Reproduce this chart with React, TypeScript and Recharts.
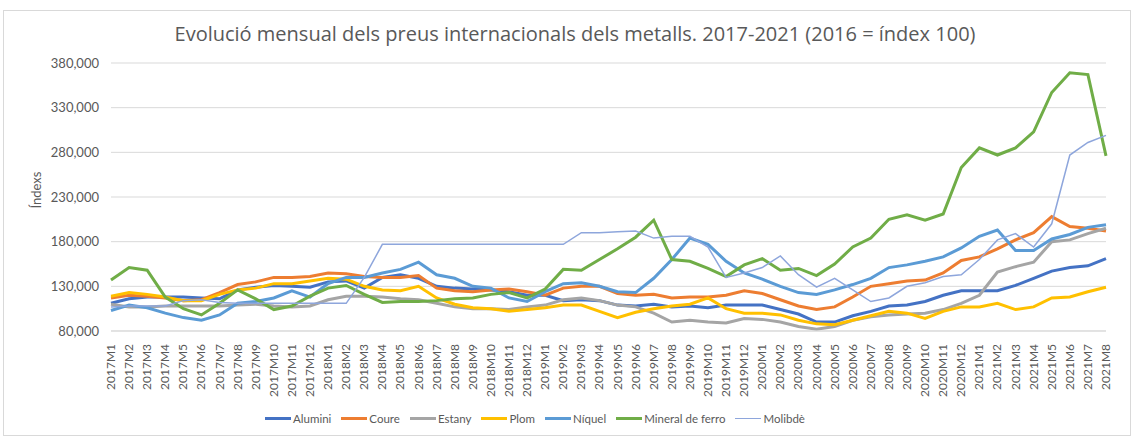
import { LineChart, Line, XAxis, YAxis, CartesianGrid, Legend } from 'recharts';

const months = [
  '2017M1', '2017M2', '2017M3', '2017M4', '2017M5', '2017M6', '2017M7', '2017M8', '2017M9', '2017M10', '2017M11', '2017M12',
  '2018M1', '2018M2', '2018M3', '2018M4', '2018M5', '2018M6', '2018M7', '2018M8', '2018M9', '2018M10', '2018M11', '2018M12',
  '2019M1', '2019M2', '2019M3', '2019M4', '2019M5', '2019M6', '2019M7', '2019M8', '2019M9', '2019M10', '2019M11', '2019M12',
  '2020M1', '2020M2', '2020M3', '2020M4', '2020M5', '2020M6', '2020M7', '2020M8', '2020M9', '2020M10', '2020M11', '2020M12',
  '2021M1', '2021M2', '2021M3', '2021M4', '2021M5', '2021M6', '2021M7', '2021M8',
];

const alumini = [
  111, 116, 118, 118, 118, 117, 116, 126, 129, 131, 130, 129,
  135, 136, 128, 140, 143, 139, 130, 128, 127, 126, 124, 120,
  120, 114, 115, 114, 109, 108, 110, 107, 108, 106, 109, 109,
  109, 104, 99, 90, 90, 97, 102, 108, 109, 113, 120, 125,
  125, 125, 131, 139, 147, 151, 153, 161,
];
const coure = [
  117, 120, 119, 117, 114, 115, 123, 132, 135, 140, 140, 141,
  145, 144, 141, 140, 140, 142, 128, 125, 124, 126, 127, 124,
  120, 128, 130, 130, 122, 120, 121, 117, 118, 118, 120, 125,
  122, 115, 108, 104, 107, 118, 130, 133, 136, 137, 145, 159,
  163, 172, 182, 190, 208, 197, 195, 192,
];
const estany = [
  110, 107, 107, 108, 108, 108, 108, 109, 110, 108, 107, 108,
  115, 119, 119, 118, 116, 115, 111, 107, 105, 105, 104, 107,
  109, 115, 117, 114, 109, 107, 100, 90, 92, 90, 89, 94,
  93, 90, 85, 82, 85, 92, 96, 98, 99, 100, 104, 111,
  120, 146, 152, 157, 180, 182, 189, 195,
];
const plom = [
  119, 123, 121, 118, 114, 114, 121, 126, 128, 133, 133, 136,
  139, 138, 130, 126, 125, 130, 117, 110, 106, 105, 102, 104,
  106, 109, 109, 102, 95, 101, 105, 108, 110, 117, 105, 100,
  100, 98, 92, 88, 87, 92, 97, 102, 100, 94, 102, 107,
  107, 111, 104, 107, 117, 118, 124, 129,
];
const niquel = [
  103, 109, 106, 100, 95, 92, 98, 111, 113, 117, 125, 118,
  133, 140, 140, 145, 149, 157, 143, 139, 130, 128, 117, 113,
  124, 133, 134, 130, 124, 123, 139, 160, 184, 177, 158, 145,
  138, 130, 123, 121, 126, 132, 139, 151, 154, 158, 163, 173,
  186, 193, 170, 170, 183, 188, 196, 199,
];
const mineralFerro = [
  137, 151, 148, 118, 105, 98, 111, 126, 116, 104, 108, 119,
  128, 131, 121, 112, 113, 113, 114, 116, 117, 121, 123, 117,
  127, 149, 148, 160, 172, 185, 204, 160, 158, 150, 141, 154,
  161, 148, 150, 142, 155, 174, 184, 205, 210, 204, 211, 263,
  285, 277, 285, 303, 347, 369, 367, 276,
];
const molibde = [
  107, 108, 108, 108, 114, 115, 112, 111, 111, 111, 111, 111,
  111, 111, 140, 177, 177, 177, 177, 177, 177, 177, 177, 177,
  177, 177, 190, 190, 191, 192, 184, 186, 186, 174, 140, 145,
  151, 164, 143, 129, 139, 126, 113, 117, 130, 134, 141, 143,
  160, 182, 189, 174, 200, 277, 291, 299,
];

const yTicks = [80, 130, 180, 230, 280, 330, 380];

const series = [
  { key: 'alumini', name: 'Alumini', color: '#4472c4', width: 3, values: alumini },
  { key: 'coure', name: 'Coure', color: '#ed7d31', width: 3, values: coure },
  { key: 'estany', name: 'Estany', color: '#a5a5a5', width: 3, values: estany },
  { key: 'plom', name: 'Plom', color: '#ffc000', width: 3, values: plom },
  { key: 'niquel', name: 'Níquel', color: '#5b9bd5', width: 3, values: niquel },
  { key: 'ferro', name: 'Mineral de ferro', color: '#70ad47', width: 3, values: mineralFerro },
  { key: 'molibde', name: 'Molibdè', color: '#8ea6dc', width: 1.5, values: molibde },
];

const data = months.map((m, i) => {
  const row: any = { month: m };
  series.forEach((s) => { row[s.key] = s.values[i]; });
  return row;
});

const FONT = 'Lato, "Open Sans", sans-serif';
const TEXT = '#595959';

const MonthTick = ({ x, y, payload }: any) => (
  <text
    transform={`translate(${x + 4},${y + 5}) rotate(-90)`}
    textAnchor="end"
    fontSize={12}
    fontFamily={FONT}
    fill={TEXT}
  >
    {payload.value}
  </text>
);

const LegendRow = () => (
  <div style={{ display: 'flex', justifyContent: 'center', alignItems: 'center', fontFamily: FONT, fontSize: 11.5, color: TEXT }}>
    {series.map((s) => (
      <div key={s.key} style={{ display: 'flex', alignItems: 'center', marginRight: 10 }}>
        <span style={{ display: 'inline-block', width: 26, height: s.width, background: s.color, marginRight: 2 }} />
        <span>{s.name}</span>
      </div>
    ))}
  </div>
);

export default function App() {
  return (
    <div style={{ position: 'absolute', left: 0, top: 0, width: 1134, height: 437, background: '#fff', fontFamily: FONT }}>
      <div style={{ position: 'absolute', left: 3, top: 10, width: 1126, height: 424, border: '1px solid #d9d9d9' }} />
      <div style={{ position: 'absolute', left: 0, top: 20, width: 1150, textAlign: 'center', fontSize: 20, color: TEXT, fontFamily: '"Open Sans", sans-serif' }}>
        Evolució mensual dels preus internacionals dels metalls. 2017-2021 (2016 = índex 100)
      </div>
      <div style={{ position: 'absolute', left: 36, top: 190, transform: 'translate(-50%,-50%) rotate(-90deg)', fontSize: 13, color: TEXT }}>
        Índexs
      </div>
      <LineChart width={1134} height={437} data={data} margin={{ top: 63, right: 28, bottom: 36, left: 8 }}>
        <CartesianGrid vertical={false} stroke="#d9d9d9" strokeWidth={1} />
        <XAxis
          dataKey="month"
          interval={0}
          height={70}
          tick={<MonthTick />}
          tickLine={false}
          axisLine={{ stroke: '#d9d9d9' }}
        />
        <YAxis
          width={103}
          domain={[80, 380]}
          ticks={yTicks}
          tickFormatter={(v: number) => `${v},000`}
          tick={{ fontSize: 13, fill: TEXT, fontFamily: FONT }}
          tickLine={false}
          axisLine={false}
          tickMargin={6}
        />
        <Legend
          layout="horizontal"
          verticalAlign="middle"
          wrapperStyle={{ top: 412, left: 0, width: 1080 }}
          content={<LegendRow />}
        />
        {series.map((s) => (
          <Line
            key={s.key}
            type="linear"
            dataKey={s.key}
            name={s.name}
            stroke={s.color}
            strokeWidth={s.width}
            dot={false}
            isAnimationActive={false}
          />
        ))}
      </LineChart>
    </div>
  );
}
